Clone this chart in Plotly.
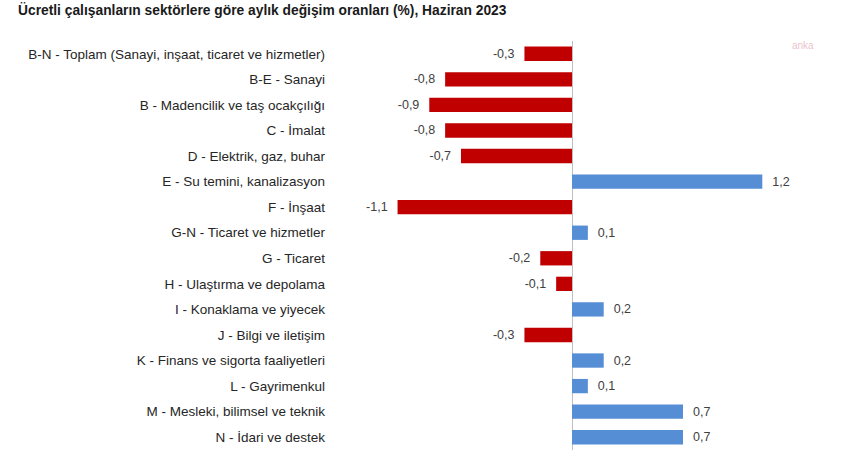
import plotly.graph_objects as go

categories = [
    "B-N - Toplam (Sanayi, inşaat, ticaret ve hizmetler)",
    "B-E - Sanayi",
    "B - Madencilik ve taş ocakçılığı",
    "C - İmalat",
    "D - Elektrik, gaz, buhar",
    "E - Su temini, kanalizasyon",
    "F - İnşaat",
    "G-N - Ticaret ve hizmetler",
    "G - Ticaret",
    "H - Ulaştırma ve depolama",
    "I - Konaklama ve yiyecek",
    "J - Bilgi ve iletişim",
    "K - Finans ve sigorta faaliyetleri",
    "L - Gayrimenkul",
    "M - Mesleki, bilimsel ve teknik",
    "N - İdari ve destek",
]
values = [-0.3, -0.8, -0.9, -0.8, -0.7, 1.2, -1.1, 0.1, -0.2, -0.1, 0.2, -0.3, 0.2, 0.1, 0.7, 0.7]

title_text = "Ücretli çalışanların sektörlere göre aylık değişim oranları (%), Haziran 2023"

NB = "\u00a0"
colors = ["#C00000" if v < 0 else "#558ED5" for v in values]
labels = []
for v in values:
    s = f"{v:.1f}".replace(".", ",")
    labels.append(s + NB * 2 if v < 0 else NB * 2 + s)

L = 330
W = 850 - L
H = 409
fig = go.Figure(
    go.Bar(
        x=values,
        y=categories,
        orientation="h",
        marker=dict(color=colors, line=dict(width=0)),
        width=0.56,
        text=labels,
        textposition="outside",
        textfont=dict(family="Liberation Sans, Arial, sans-serif", size=12.5, color="#404040"),
        cliponaxis=False,
    )
)

fig.update_layout(
    width=850,
    height=450,
    margin=dict(l=L, r=0, t=41, b=0),
    paper_bgcolor="white",
    plot_bgcolor="white",
    showlegend=False,
    font=dict(family="Liberation Sans, Arial, sans-serif", size=13.5, color="#333333"),
    xaxis=dict(
        range=[-1.526, 1.753],
        showgrid=False,
        showticklabels=False,
        zeroline=True,
        zerolinecolor="#BFBFBF",
        zerolinewidth=1,
        ticks="",
    ),
    yaxis=dict(
        autorange="reversed",
        showgrid=False,
        zeroline=False,
        ticks="",
        ticklabelstandoff=4,
        tickfont=dict(family="Liberation Sans, Arial, sans-serif", size=13.5, color="#262626"),
    ),
    annotations=[
        dict(
            text="<b>" + title_text + "</b>",
            xref="paper", yref="paper",
            x=(16 - L) / W, y=1 + 31 / H,
            xanchor="left", yanchor="middle",
            showarrow=False,
            font=dict(family="Liberation Sans, Arial, sans-serif", size=13.8, color="#1a1a1a"),
        ),
        dict(
            text="anka",
            xref="paper", yref="paper",
            x=(803 - L) / W, y=1 + (41 - 45) / H,
            xanchor="center", yanchor="middle",
            showarrow=False,
            font=dict(family="Liberation Sans, Arial, sans-serif", size=10, color="rgba(225,150,165,0.6)"),
        ),
    ],
)

fig.write_html("out.html")
